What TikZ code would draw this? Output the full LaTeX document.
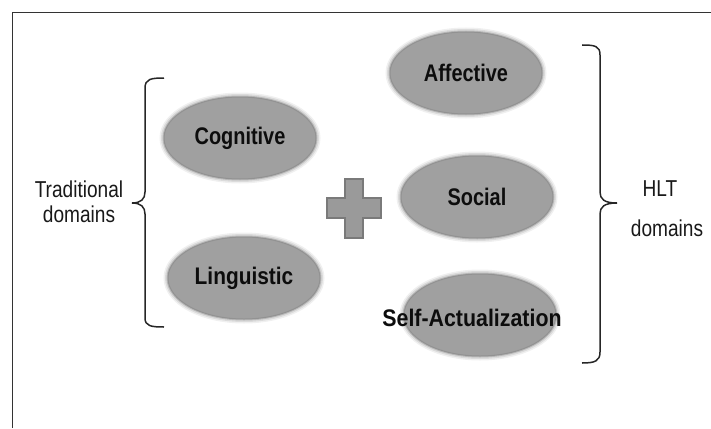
\documentclass[tikz,border=0pt]{standalone}
\usepackage{fontspec}
\setmainfont{Liberation Sans}
\usetikzlibrary{shapes.geometric}
\definecolor{ellfill}{HTML}{A0A0A0}
\definecolor{ellrim}{HTML}{929292}
\definecolor{plusfill}{HTML}{9A9A9A}
\definecolor{plusrim}{HTML}{7A7A7A}
\definecolor{framec}{HTML}{333333}
\tikzset{
  dom/.style={ellipse, minimum width=152pt, minimum height=82pt, inner sep=0pt,
    fill=ellfill, draw=ellrim, line width=1pt,
    preaction={draw=black!6, line width=9pt},
    preaction={draw=black!14, line width=6pt},
    preaction={draw=black!28, line width=3pt}},
  lbl/.style={inner sep=0pt, text=black!95, font=\fontsize{24}{27}\selectfont\bfseries},
  side/.style={inner sep=0pt, align=center, text=black!90, font=\fontsize{23}{26}\selectfont},
  bracec/.style={draw=black!85, line width=1.5pt},
  plus/.style={fill=plusfill, draw=plusrim, line width=2pt}
}
\begin{document}
\begin{tikzpicture}[x=1pt,y=-1pt]
\useasboundingbox (0,0) rectangle (711,428);
% frame
\draw[framec, line width=1.6pt] (12.5,428) -- (12.5,12.5) -- (711,12.5);
% ellipses
\node[dom] (aff) at (466,73) {};
\node[dom] (soc) at (477,197) {};
\node[dom] (cog) at (240,138) {};
\node[dom] (lin) at (244,278) {};
\node[dom] (self) at (480,315) {};
\node[lbl] (afft) at (aff.center) {\scalebox{0.83}[1]{Affective}};
\node[lbl] (soct) at (soc.center) {\scalebox{0.83}[1]{Social}};
\node[lbl] (cogt) at (cog.center) {\scalebox{0.83}[1]{Cognitive}};
\node[lbl] (lint) at (lin.center) {\scalebox{0.87}[1]{Linguistic}};
\node[lbl] (selft) at (472,318) {\scalebox{0.89}[1]{Self-Actualization}};
% plus
\draw[plus] (345,179) -- (363,179) -- (363,198) -- (381,198) -- (381,218) -- (363,218)
  -- (363,238) -- (345,238) -- (345,218) -- (327,218) -- (327,198) -- (345,198) -- cycle;
% left brace
\draw[bracec] (164,78) .. controls (151,78) and (145,79) .. (145,88) -- (145,192)
  .. controls (145,199) and (141,203) .. (132,203)
  .. controls (141,203) and (145,207) .. (145,214) -- (145,318)
  .. controls (145,326) and (151,327) .. (164,327);
% right brace
\draw[bracec] (582,45) .. controls (595,45) and (600,46) .. (600,55) -- (600,192)
  .. controls (600,199) and (604,203) .. (617,203)
  .. controls (604,203) and (600,207) .. (600,214) -- (600,352)
  .. controls (600,361) and (595,363) .. (582,363);
% side texts
\node[side] (trad) at (79,189) {\scalebox{0.83}[1]{Traditional}};
\node[side] (tdom) at (79,214) {\scalebox{0.83}[1]{domains}};
\node[side] (hlt) at (660,189) {\scalebox{0.83}[1]{HLT}};
\node[side] (hdom) at (667,228) {\scalebox{0.83}[1]{domains}};
\end{tikzpicture}
\end{document}
